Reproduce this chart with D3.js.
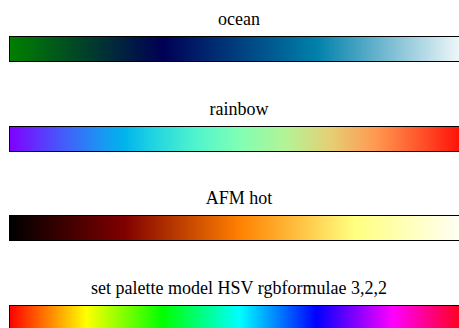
<!DOCTYPE html>
<html>
<head>
<meta charset="utf-8">
<script src="https://cdn.jsdelivr.net/npm/d3@7"></script>
<style>
  body { margin: 0; background: #fff; }
  svg { display: block; }
  .row text { font-family: "Times New Roman", "Liberation Serif", Times, serif; }
</style>
</head>
<body>
<div id="chart"></div>
<script>
// Palette titles, top to bottom
const titles = ["ocean", "rainbow", "AFM hot", "set palette model HSV rgbformulae 3,2,2"];

// Colour stops: [offset 0..1, colour]
const oceanStops = [[0, "#008000"], [1 / 3, "#000055"], [2 / 3, "#0080aa"], [1, "#ffffff"]];
const rainbowStops = [
  [0, "#8000ff"], [0.1, "#4d4ffc"], [0.2, "#1a96f3"], [0.25, "#00b4ec"], [0.3, "#1acee3"],
  [0.4, "#4df3ce"], [0.5, "#80ffb4"], [0.6, "#b3f396"], [0.7, "#e6ce74"], [0.8, "#ff964f"],
  [0.9, "#ff4f28"], [1, "#ff0000"]
];
const afmStops = [[0, "#000000"], [0.25, "#800000"], [0.5, "#ff8000"], [0.75, "#ffff80"], [1, "#ffffff"]];
const hsvStops = [
  [0, "#ff0000"], [1 / 6, "#ffff00"], [2 / 6, "#00ff00"], [3 / 6, "#00ffff"],
  [4 / 6, "#0000ff"], [5 / 6, "#ff00ff"], [1, "#ff0000"]
];
const palettes = [oceanStops, rainbowStops, afmStops, hsvStops];

const width = 459, height = 328;
const barLeft = 9, barRight = 469, barH = 25;

const svg = d3.select("#chart").append("svg")
  .attr("width", width)
  .attr("height", height);

// x position along the palette
const x = d3.scaleLinear().domain([0, 1]).range([barLeft, barRight]);
// top of each bar
const y = d3.scaleLinear().domain([0, 3]).range([36, 304.7]);

const defs = svg.append("defs");
palettes.forEach((stops, i) => {
  const grad = defs.append("linearGradient")
    .attr("id", "pal" + i)
    .attr("x1", "0%").attr("x2", "100%")
    .attr("y1", "0%").attr("y2", "0%");
  grad.selectAll("stop")
    .data(stops)
    .enter()
    .append("stop")
    .attr("offset", d => (d[0] * 100) + "%")
    .attr("stop-color", d => d[1]);
});

const rows = svg.selectAll(".row")
  .data(titles)
  .enter()
  .append("g")
  .attr("class", "row");

rows.append("rect")
  .attr("x", x(0) + 0.5)
  .attr("y", (d, i) => Math.round(y(i)) + 0.5)
  .attr("width", x(1) - x(0))
  .attr("height", barH)
  .attr("fill", (d, i) => "url(#pal" + i + ")")
  .attr("stroke", "#000")
  .attr("stroke-width", 1);

rows.append("text")
  .attr("x", (x(0) + x(1)) / 2)
  .attr("y", (d, i) => y(i) - 11)
  .attr("text-anchor", "middle")
  .attr("font-size", 18)
  .attr("fill", "#000")
  .text(d => d);
</script>
</body>
</html>
